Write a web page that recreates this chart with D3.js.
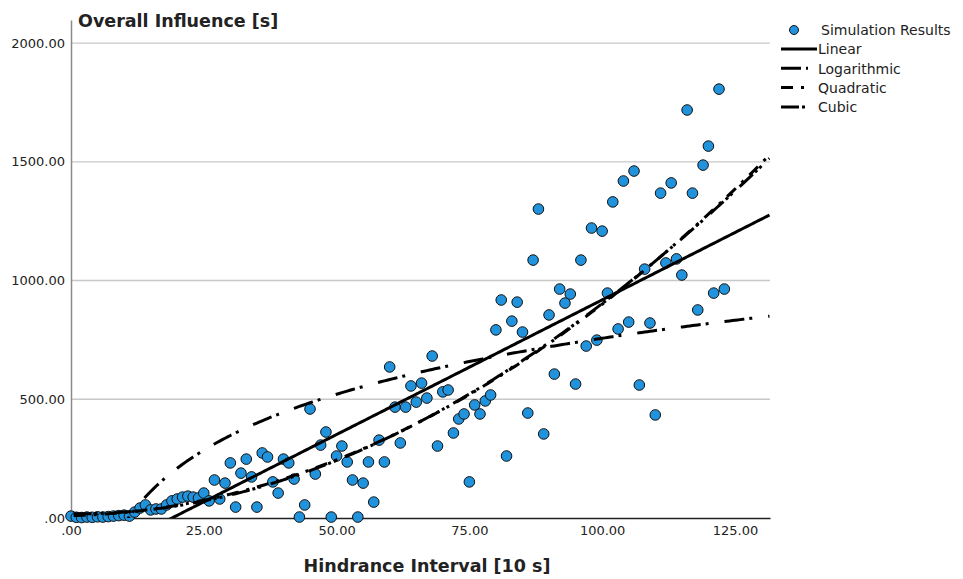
<!DOCTYPE html>
<html>
<head>
<meta charset="utf-8">
<script src="https://cdn.jsdelivr.net/npm/d3@7"></script>
<style>
  body { margin: 0; background: #fff; }
  text { font-family: "DejaVu Sans", sans-serif; }
</style>
</head>
<body>
<div class="chart"></div>
<script>
// hindrance interval [10 s], one run per step
const intervals = d3.range(0, 124);
// overall influence [s]
const influence = [
  8, 3, 2, 4, 3, 5, 4, 6, 8, 10, 12, 8,
  25, 42, 55, 34, 38, 38, 55, 72, 80, 88, 92, 88, 84, 105, 72, 160, 80, 147,
  232, 46, 189, 248, 173, 46, 274, 257, 152, 105, 248, 232, 164, 4, 55, 459,
  185, 307, 362, 4, 261, 303, 236, 160, 4, 147, 236, 67, 328, 236, 636, 467,
  316, 467, 556, 488, 568, 505, 682, 303, 531, 539, 358, 417, 438, 152, 476,
  438, 493, 518, 792, 918, 261, 829, 909, 783, 442, 1086, 1301, 354, 855, 606,
  964, 905, 943, 564, 1086, 724, 1221, 749, 1208, 947, 1331, 796, 1419, 825,
  1461, 560, 1048, 821, 434, 1368, 1074, 1411, 1091, 1023, 1718, 1368, 876,
  1486, 1566, 947, 1806, 964
];

// fitted model coefficients
const linearCoef = [-215.5, 11.34];
const logCoef = [-809, 340];
const quadCoef = [10, 0.5, 0.084];
const cubicCoef = [18, -0.3, 0.1, -0.000085];

const yTicks = [0, 500, 1000, 1500, 2000];
const xTicks = [0, 25, 50, 75, 100, 125];
const legendNames = ["Simulation Results", "Linear", "Logarithmic", "Quadratic", "Cubic"];

const width = 963, height = 579;
const plot = { left: 71, right: 770, top: 20, bottom: 518 };

const svg = d3.select(".chart").append("svg")
  .attr("width", width)
  .attr("height", height);

const xScale = d3.scaleLinear()
  .domain([0, 131.6])
  .range([plot.left, plot.right]);
const yScale = d3.scaleLinear()
  .domain([0, 2097])
  .range([plot.bottom, plot.top]);

const fmt = v => v === 0 ? ".00" : d3.format(".2f")(v);

// grid lines
svg.append("g")
  .selectAll("line")
  .data(yTicks.filter(d => d > 0))
  .enter()
  .append("line")
  .attr("x1", plot.left)
  .attr("x2", plot.right)
  .attr("y1", d => yScale(d))
  .attr("y2", d => yScale(d))
  .attr("stroke", "#c8c8c8")
  .attr("stroke-width", 1.3);

// axes
const yAxis = d3.axisLeft(yScale).tickValues(yTicks).tickFormat(fmt).tickSize(0).tickPadding(6);
const xAxis = d3.axisBottom(xScale).tickValues(xTicks).tickFormat(fmt).tickSize(0).tickPadding(8);

const gy = svg.append("g")
  .attr("transform", `translate(${plot.left},0)`)
  .call(yAxis);
gy.select(".domain").attr("stroke", "#8a8a8a").attr("stroke-width", 1.5);
gy.selectAll("text").attr("font-size", 13).attr("fill", "#222");

const gx = svg.append("g")
  .attr("transform", `translate(0,${plot.bottom})`)
  .call(xAxis);
gx.select(".domain").attr("stroke", "#222").attr("stroke-width", 1.5);
gx.selectAll("text").attr("font-size", 13).attr("fill", "#222");

// titles
svg.append("text")
  .attr("x", 78)
  .attr("y", 27)
  .attr("font-size", 17.5)
  .attr("font-weight", "bold")
  .attr("fill", "#222")
  .text("Overall Influence [s]");

svg.append("text")
  .attr("x", 427)
  .attr("y", 572)
  .attr("text-anchor", "middle")
  .attr("font-size", 17.5)
  .attr("font-weight", "bold")
  .attr("fill", "#222")
  .text("Hindrance Interval [10 s]");

// clip for fit lines
svg.append("clipPath").attr("id", "plotClip")
  .append("rect")
  .attr("x", plot.left)
  .attr("y", plot.top)
  .attr("width", plot.right - plot.left)
  .attr("height", plot.bottom - plot.top);

const fits = [
  { name: "Linear", dash: null, f: x => linearCoef[0] + linearCoef[1] * x },
  { name: "Logarithmic", dash: "20,5,3,16", f: x => logCoef[0] + logCoef[1] * Math.log(x) },
  { name: "Quadratic", dash: "12,8,3,8", f: x => quadCoef[0] + quadCoef[1] * x + quadCoef[2] * x * x },
  { name: "Cubic", dash: "18,3,3,3,3,10", f: x => cubicCoef[0] + cubicCoef[1] * x + cubicCoef[2] * x * x + cubicCoef[3] * x * x * x }
];

const samples = d3.range(0.5, 131.7, 0.5);
const line = d3.line()
  .x(d => xScale(d[0]))
  .y(d => yScale(d[1]));

const scatter = svg.append("g");

svg.append("g")
  .attr("clip-path", "url(#plotClip)")
  .selectAll("path")
  .data(fits)
  .enter()
  .append("path")
  .attr("d", d => line(samples.map(x => [x, Math.max(-60, d.f(x))])))
  .attr("fill", "none")
  .attr("stroke", "#000")
  .attr("stroke-width", 3)
  .attr("stroke-dasharray", d => d.dash);

// points
scatter.selectAll("circle")
  .data(intervals)
  .enter()
  .append("circle")
  .attr("cx", d => xScale(d))
  .attr("cy", (d, i) => yScale(influence[i]))
  .attr("r", 5.3)
  .attr("fill", "#2193dc")
  .attr("stroke", "#111")
  .attr("stroke-width", 1);

// legend
const legend = svg.append("g");
legend.append("circle")
  .attr("cx", 794)
  .attr("cy", 30)
  .attr("r", 4.5)
  .attr("fill", "#2193dc")
  .attr("stroke", "#111");
legend.selectAll("line")
  .data(fits)
  .enter()
  .append("line")
  .attr("x1", 781)
  .attr("x2", (d, i) => i == 0 ? 817 : 808)
  .attr("y1", (d, i) => 49 + i * 19.3)
  .attr("y2", (d, i) => 49 + i * 19.3)
  .attr("stroke", "#000")
  .attr("stroke-width", 3)
  .attr("stroke-dasharray", d => d.dash);
legend.selectAll("text")
  .data(legendNames)
  .enter()
  .append("text")
  .attr("x", (d, i) => i == 0 ? 821 : 818)
  .attr("y", (d, i) => 35 + i * 19.3)
  .attr("font-size", 14)
  .attr("fill", "#222")
  .text(d => d);
</script>
</body>
</html>
